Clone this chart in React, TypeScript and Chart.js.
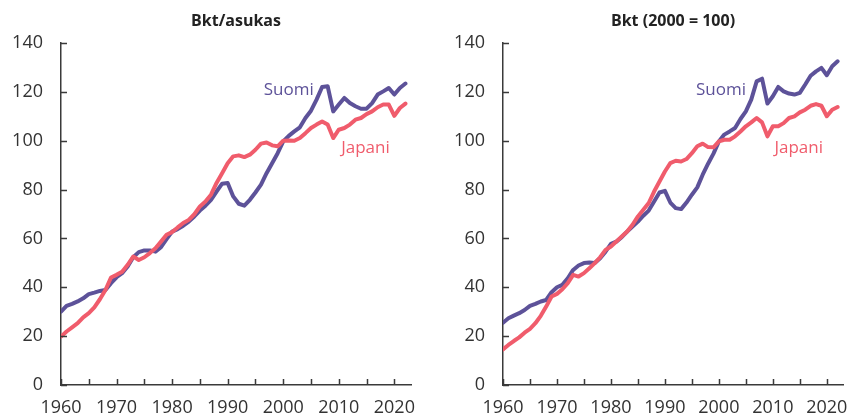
import React, { useEffect, useRef } from "react";
import { Chart, registerables } from "chart.js";

Chart.register(...registerables);

const YEARS = [
  1960, 1961, 1962, 1963, 1964, 1965, 1966, 1967, 1968, 1969,
  1970, 1971, 1972, 1973, 1974, 1975, 1976, 1977, 1978, 1979,
  1980, 1981, 1982, 1983, 1984, 1985, 1986, 1987, 1988, 1989,
  1990, 1991, 1992, 1993, 1994, 1995, 1996, 1997, 1998, 1999,
  2000, 2001, 2002, 2003, 2004, 2005, 2006, 2007, 2008, 2009,
  2010, 2011, 2012, 2013, 2014, 2015, 2016, 2017, 2018, 2019,
  2020, 2021, 2022,
];

// Left panel: Bkt/asukas
const SUOMI_PER_CAPITA = [
  30.0, 32.4, 33.2, 34.2, 35.5, 37.2, 37.8, 38.5, 38.9, 41.7,
  44.1, 45.8, 48.5, 52.3, 54.4, 55.1, 55.1, 54.6, 56.4, 59.7,
  62.8, 63.8, 65.2, 66.9, 69.0, 71.4, 73.4, 75.8, 79.2, 82.4,
  82.7, 77.2, 74.2, 73.4, 75.8, 78.8, 82.0, 86.7, 90.8, 94.9,
  99.7, 102.0, 103.8, 105.5, 109.3, 112.3, 116.8, 122.0, 122.3, 112.0,
  114.8, 117.5, 115.4, 114.1, 113.1, 113.1, 115.4, 118.9, 120.2, 121.6,
  118.9, 121.6, 123.4,
];
const JAPANI_PER_CAPITA = [
  19.8, 21.9, 23.6, 25.3, 27.7, 29.4, 31.8, 35.1, 38.9, 44.0,
  45.1, 46.4, 49.2, 52.6, 51.2, 52.3, 54.0, 56.0, 58.7, 61.5,
  62.6, 64.5, 66.3, 67.6, 69.9, 73.1, 75.1, 77.9, 82.7, 86.7,
  90.8, 93.6, 94.0, 93.3, 94.3, 96.3, 98.8, 99.3, 98.1, 97.7,
  100.0, 100.1, 100.0, 101.1, 103.1, 105.2, 106.6, 107.9, 106.6, 101.1,
  104.5, 105.2, 106.6, 108.6, 109.3, 110.9, 112.0, 113.7, 114.8, 114.8,
  110.2, 113.4, 115.2,
];

// Right panel: Bkt (2000 = 100)
const SUOMI_GDP = [
  25.5, 27.3, 28.4, 29.4, 30.7, 32.4, 33.2, 34.2, 34.8, 38.0,
  40.0, 41.0, 43.7, 47.1, 48.9, 49.9, 50.1, 49.9, 51.9, 54.6,
  57.8, 58.7, 60.5, 62.8, 64.9, 66.9, 69.3, 71.4, 75.1, 78.8,
  79.5, 74.7, 72.4, 72.0, 74.7, 77.9, 80.9, 86.1, 90.6, 94.7,
  99.7, 102.5, 103.8, 105.2, 108.9, 112.0, 116.8, 124.3, 125.4, 115.2,
  118.2, 122.0, 120.2, 119.3, 118.9, 119.6, 123.0, 126.6, 128.4, 129.8,
  126.8, 130.5, 132.5,
];
const JAPANI_GDP = [
  14.6, 16.4, 18.0, 19.5, 21.4, 23.0, 25.3, 28.3, 32.1, 36.2,
  37.3, 39.2, 41.7, 45.1, 44.4, 45.8, 47.8, 49.9, 52.3, 55.3,
  56.7, 58.7, 60.8, 62.8, 65.6, 69.0, 71.7, 74.5, 79.2, 83.3,
  87.4, 90.8, 91.8, 91.5, 92.5, 94.9, 97.7, 98.8, 97.4, 97.3,
  99.7, 100.4, 100.4, 101.8, 103.8, 105.9, 107.5, 109.3, 107.5, 101.8,
  105.9, 105.9, 107.2, 109.3, 110.0, 111.6, 112.7, 114.3, 115.0, 114.3,
  110.0, 112.7, 113.8,
];

const PANEL_TITLES = ["Bkt/asukas", "Bkt (2000 = 100)"];
const SERIES_NAMES = ["Suomi", "Japani"];
const Y_MIN = 0;
const Y_MAX = 140;
const Y_STEP = 20;
const X_MIN = 1960;
const X_MAX = 2023;
const X_STEP = 5;
const X_LABEL_STEP = 10;

// label anchor positions in data coordinates [x, y] (centre of text)
const LABEL_ANCHORS = [
  { suomi: [2001.0, 120.6], japani: [2014.8, 96.8] },
  { suomi: [2000.4, 120.6], japani: [2014.8, 96.8] },
];

const PURPLE = "#5d5299";
const PINK = "#f05c6c";
const FONT = "'Open Sans', Lato, sans-serif";
const TEXT = "#333333";
const AXIS = "#3a3a3a";

const inwardTicks = {
  id: "inwardTicks",
  afterDraw(chart: any) {
    const { ctx, chartArea } = chart;
    const xs = chart.scales.x;
    const ys = chart.scales.y;
    ctx.save();
    ctx.strokeStyle = AXIS;
    ctx.lineWidth = 1.5;
    ctx.beginPath();
    xs.ticks.forEach((t: any) => {
      const px = Math.round(xs.getPixelForValue(t.value)) + 0.5;
      ctx.moveTo(px, chartArea.bottom);
      ctx.lineTo(px, chartArea.bottom - 6);
    });
    ys.ticks.forEach((t: any) => {
      const py = Math.round(ys.getPixelForValue(t.value)) + 0.5;
      ctx.moveTo(chartArea.left, py);
      ctx.lineTo(chartArea.left + 6, py);
    });
    ctx.stroke();
    ctx.restore();
  },
};

const seriesLabels = {
  id: "seriesLabels",
  afterDatasetsDraw(chart: any, _args: any, opts: any) {
    const { ctx } = chart;
    const xs = chart.scales.x;
    const ys = chart.scales.y;
    ctx.save();
    ctx.font = `17px ${FONT}`;
    ctx.textAlign = "center";
    ctx.textBaseline = "middle";
    (opts.items || []).forEach((it: any) => {
      ctx.fillStyle = it.color;
      ctx.fillText(it.text, xs.getPixelForValue(it.pos[0]), ys.getPixelForValue(it.pos[1]));
    });
    ctx.restore();
  },
};

function Panel({ index }: { index: number }) {
  const ref = useRef<HTMLCanvasElement | null>(null);
  useEffect(() => {
    if (!ref.current) return;
    const suomi = index === 0 ? SUOMI_PER_CAPITA : SUOMI_GDP;
    const japani = index === 0 ? JAPANI_PER_CAPITA : JAPANI_GDP;
    const anchors = LABEL_ANCHORS[index];
    const chart = new Chart(ref.current, {
      type: "line",
      data: {
        datasets: [
          {
            label: SERIES_NAMES[0],
            data: YEARS.map((x, k) => ({ x, y: suomi[k] })),
            borderColor: PURPLE,
            borderWidth: 4,
            pointRadius: 0,
            tension: 0,
            borderJoinStyle: "round",
            borderCapStyle: "round",
            order: 1,
          },
          {
            label: SERIES_NAMES[1],
            data: YEARS.map((x, k) => ({ x, y: japani[k] })),
            borderColor: PINK,
            borderWidth: 4,
            pointRadius: 0,
            tension: 0,
            borderJoinStyle: "round",
            borderCapStyle: "round",
            order: 0,
          },
        ],
      },
      options: {
        responsive: false,
        animation: false,
        devicePixelRatio: 1,
        layout: { padding: { left: 0, right: 21, top: 0, bottom: 0 } },
        plugins: {
          legend: { display: false },
          tooltip: { enabled: false },
          title: {
            display: true,
            text: PANEL_TITLES[index],
            fullSize: false,
            color: "#222222",
            font: { family: FONT, size: 16, weight: "bold" },
            padding: { top: 11.5, bottom: 12.3 },
          },
          seriesLabels: {
            items: [
              { text: SERIES_NAMES[0], pos: anchors.suomi, color: PURPLE },
              { text: SERIES_NAMES[1], pos: anchors.japani, color: PINK },
            ],
          },
        } as any,
        scales: {
          x: {
            type: "linear",
            min: X_MIN,
            max: X_MAX,
            grid: { display: false, drawTicks: false },
            border: { display: true, color: AXIS, width: 1.5 },
            ticks: {
              stepSize: X_STEP,
              includeBounds: false,
              autoSkip: false,
              maxRotation: 0,
              padding: 12,
              color: TEXT,
              font: { family: FONT, size: 18 },
              callback: (v: any) => (Number(v) % X_LABEL_STEP === 0 ? String(v) : ""),
            },
            afterFit: (s: any) => {
              s.height = 32;
            },
          },
          y: {
            min: Y_MIN,
            max: Y_MAX,
            grid: { display: false, drawTicks: false },
            border: { display: true, color: AXIS, width: 1.5 },
            ticks: {
              stepSize: Y_STEP,
              padding: 18,
              color: TEXT,
              font: { family: FONT, size: 18 },
            },
            afterFit: (s: any) => {
              s.width = index === 0 ? 61 : 71;
            },
          },
        },
      } as any,
      plugins: [inwardTicks, seriesLabels],
    });
    return () => chart.destroy();
  }, [index]);
  return <canvas ref={ref} width={432} height={417} style={{ display: "block", width: 432, height: 417 }} />;
}

export default function App() {
  return (
    <div style={{ position: "absolute", left: 0, top: 0, width: 864, height: 417, display: "flex", background: "#fff" }}>
      <Panel index={0} />
      <Panel index={1} />
    </div>
  );
}
